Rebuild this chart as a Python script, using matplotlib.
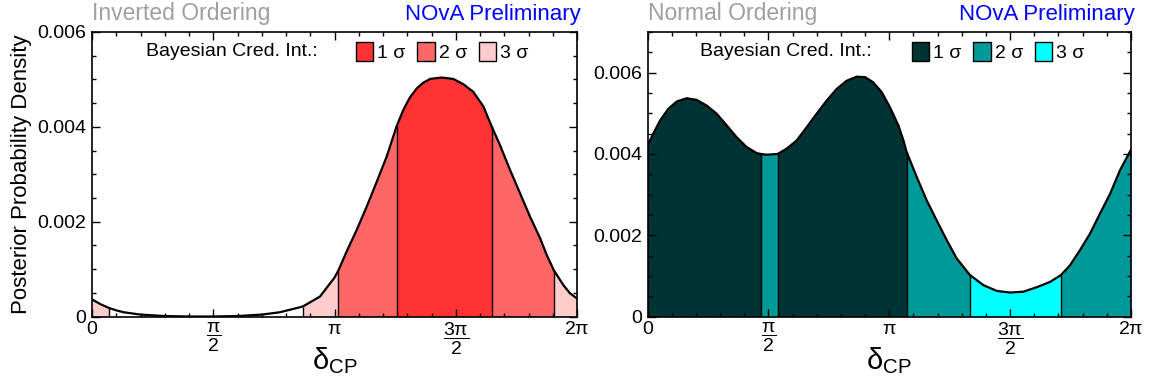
import numpy as np
import matplotlib.pyplot as plt
from matplotlib.patches import Patch
from matplotlib.ticker import MultipleLocator, FixedLocator, FixedFormatter, FuncFormatter

plt.rcParams['font.family'] = ['Liberation Sans', 'DejaVu Sans']
plt.rcParams['mathtext.fontset'] = 'custom'
plt.rcParams['mathtext.rm'] = 'Liberation Sans'
plt.rcParams['mathtext.it'] = 'Liberation Sans:italic'
plt.rcParams['mathtext.bf'] = 'Liberation Sans:bold'

# delta_CP in units of pi, posterior density
io_delta = [0.0, 0.035, 0.07, 0.10, 0.13, 0.20, 0.30, 0.40, 0.50, 0.60, 0.70, 0.775,
            0.869, 0.94, 1.0, 1.016, 1.05, 1.091, 1.133, 1.174, 1.215, 1.256, 1.284,
            1.311, 1.339, 1.366, 1.394, 1.442, 1.49, 1.531, 1.572, 1.614, 1.648, 1.682,
            1.724, 1.765, 1.806, 1.848, 1.875, 1.905, 1.944, 1.971, 2.0]
io_density = [0.00036, 0.00026, 0.00018, 0.00013, 0.00009, 0.00004, 0.00001, 0.0, 0.0,
              0.00001, 0.00004, 0.00009, 0.00021, 0.00042, 0.00082, 0.00097, 0.00137,
              0.00182, 0.00232, 0.00284, 0.00337, 0.00401, 0.00436, 0.00462, 0.00481,
              0.00493, 0.00501, 0.00504, 0.00501, 0.0049, 0.00474, 0.00443, 0.00401,
              0.00362, 0.00309, 0.0026, 0.00211, 0.00165, 0.0013, 0.00097, 0.00066,
              0.00049, 0.00038]
io_edges = [0.0, 0.07, 0.869, 1.016, 1.256, 1.648, 1.905, 2.0]
io_levels = [3, 0, 3, 2, 1, 2, 3]
io_colors = {1: '#ff3333', 2: '#ff6666', 3: '#ffcccc'}

no_delta = [0.0, 0.024, 0.052, 0.086, 0.121, 0.162, 0.203, 0.245, 0.286, 0.328, 0.369,
            0.41, 0.452, 0.468, 0.493, 0.539, 0.576, 0.617, 0.659, 0.70, 0.741, 0.783,
            0.824, 0.865, 0.90, 0.934, 0.969, 1.003, 1.038, 1.059, 1.072, 1.114, 1.155,
            1.196, 1.238, 1.279, 1.334, 1.39, 1.445, 1.50, 1.555, 1.61, 1.665, 1.711,
            1.748, 1.789, 1.831, 1.872, 1.914, 1.955, 2.0]
no_density = [0.00421, 0.0045, 0.00482, 0.00511, 0.00529, 0.00537, 0.00533, 0.00519,
              0.00499, 0.0047, 0.00441, 0.00417, 0.00402, 0.0040, 0.00398, 0.0040,
              0.00413, 0.00433, 0.00466, 0.00499, 0.00531, 0.0056, 0.0058, 0.0059,
              0.00589, 0.00576, 0.00552, 0.00515, 0.0047, 0.00433, 0.00405, 0.00343,
              0.00286, 0.00237, 0.00188, 0.00143, 0.00102, 0.00077, 0.00063, 0.00059,
              0.00061, 0.00072, 0.00085, 0.00102, 0.00126, 0.00163, 0.00204, 0.00253,
              0.00302, 0.0036, 0.0041]
no_edges = [0.0, 0.468, 0.539, 1.072, 1.334, 1.711, 2.0]
no_levels = [1, 2, 1, 2, 3, 2]
no_colors = {1: '#003333', 2: '#009999', 3: '#00ffff'}

tick_pos = [0, 0.5, 1, 1.5, 2]
tick_text = ['0', r'$\dfrac{\mathrm{\pi}}{2}$', r'$\mathrm{\pi}$',
             r'$\dfrac{3\mathrm{\pi}}{2}$', r'$2\mathrm{\pi}$']


def draw_panel(ax, delta, dens, edges, levels, colors, ymax, ordering, leg_text_x, leg_x):
    delta = np.array(delta)
    dens = np.array(dens)
    for lo, hi, lev in zip(edges[:-1], edges[1:], levels):
        if lev == 0:
            continue
        m = (delta >= lo - 1e-9) & (delta <= hi + 1e-9)
        ax.fill_between(delta[m], 0, dens[m], color=colors[lev], lw=0)
    inner = edges[1:-1]
    ax.vlines(inner, 0, np.interp(inner, delta, dens), color='k', lw=1)
    ax.plot(delta, dens, color='k', lw=1.6)

    ax.set_xlim(0, 2)
    ax.set_ylim(0, ymax)
    ax.xaxis.set_major_locator(FixedLocator(tick_pos))
    ax.xaxis.set_major_formatter(FixedFormatter(tick_text))
    ax.xaxis.set_minor_locator(MultipleLocator(0.1))
    ax.yaxis.set_major_locator(MultipleLocator(0.002))
    ax.yaxis.set_minor_locator(MultipleLocator(0.0005))
    ax.yaxis.set_major_formatter(FuncFormatter(lambda v, _: '0' if v == 0 else f'{v:.3f}'))
    ax.tick_params(which='both', direction='in', top=True, right=True, labelsize=14, width=1)
    ax.tick_params(which='major', length=6, pad=4)
    ax.tick_params(axis='x', which='major', pad=3)
    ax.tick_params(which='minor', length=3)
    for s in ax.spines.values():
        s.set_linewidth(1.2)
    ax.set_xlabel('δ$_\\mathrm{CP}$', fontsize=21)
    ax.xaxis.set_label_coords(0.5, -0.1)

    ax.text(0, 1.042, ordering, transform=ax.transAxes, fontsize=16.5, color='#9f9f9f',
            va='baseline', ha='left')
    ax.text(1.008, 1.042, 'NOvA Preliminary', transform=ax.transAxes, fontsize=16,
            color='#0000ff', va='baseline', ha='right')

    ax.text(leg_text_x, 0.93, 'Bayesian Cred. Int.:', transform=ax.transAxes,
            fontsize=14, ha='right', va='center')
    handles = [Patch(facecolor=colors[i], edgecolor='k', lw=1, label=f'{i} σ') for i in (1, 2, 3)]
    ax.legend(handles=handles, ncol=3, loc='center left', bbox_to_anchor=(leg_x, 0.93),
              frameon=False, fontsize=14, handlelength=0.9, handleheight=1.15,
              handletextpad=0.2, columnspacing=0.6, borderpad=0, borderaxespad=0)


fig = plt.figure(figsize=(11.53, 3.85), dpi=100)
ax1 = fig.add_axes([92 / 1153, 68.5 / 385, 485 / 1153, 284.5 / 385])
ax2 = fig.add_axes([647.5 / 1153, 68.5 / 385, 483.4 / 1153, 284.5 / 385])

draw_panel(ax1, io_delta, io_density, io_edges, io_levels, io_colors, 0.006,
           'Inverted Ordering', 0.466, 0.544)
draw_panel(ax2, no_delta, no_density, no_edges, no_levels, no_colors, 0.007,
           'Normal Ordering', 0.464, 0.547)
ax1.set_ylabel('Posterior Probability Density', fontsize=16, labelpad=4)

fig.savefig('out.png', dpi=100)
